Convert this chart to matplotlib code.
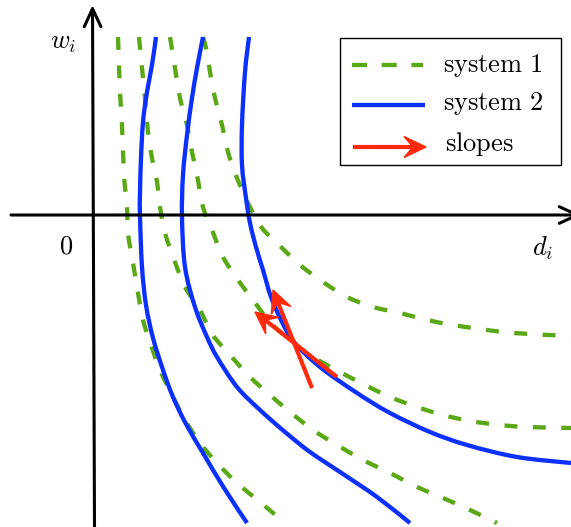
import matplotlib
matplotlib.use("Agg")
import numpy as np
import matplotlib.pyplot as plt
from matplotlib.patches import Rectangle, ArrowStyle, PathPatch, Polygon
from matplotlib.path import Path

plt.rcParams["mathtext.fontset"] = "cm"

# ---- system 1 (dashed) level curves: d_i, w_i ----
s1_d = [
    [0.25, 0.27, 0.29, 0.31, 0.34, 0.35, 0.40, 0.45, 0.50, 0.57, 0.67, 0.80, 0.92, 1.07, 1.24, 1.44, 1.67, 1.92],
    [0.46, 0.49, 0.52, 0.55, 0.59, 0.64, 0.67, 0.72, 0.82, 0.92, 1.07, 1.19, 1.37, 1.57, 1.77, 1.97, 2.20, 2.44,
     2.70, 2.97, 3.24, 3.50, 3.77, 4.04],
    [0.77, 0.82, 0.87, 0.94, 0.99, 1.04, 1.10, 1.19, 1.30, 1.45, 1.60, 1.77, 1.99, 2.20, 2.47, 2.72, 2.97, 3.24,
     3.50, 3.77, 4.07, 4.34, 4.78],
    [1.10, 1.14, 1.17, 1.22, 1.29, 1.35, 1.44, 1.57, 1.69, 1.88, 2.07, 2.30, 2.54, 2.80, 3.07, 3.34, 3.60, 3.87,
     4.20, 4.78],
]
s1_w = [
    [1.78, 1.23, 0.90, 0.40, 0.08, -0.18, -0.48, -0.78, -1.05, -1.27, -1.55, -1.82, -2.05, -2.28, -2.48, -2.68, -2.87, -3.08],
    [1.78, 1.47, 1.17, 0.83, 0.57, 0.33, 0.08, -0.18, -0.47, -0.72, -0.95, -1.19, -1.40, -1.62, -1.80, -1.97, -2.15, -2.30,
     -2.45, -2.58, -2.72, -2.83, -2.95, -3.08],
    [1.78, 1.47, 1.17, 0.90, 0.63, 0.40, 0.08, -0.15, -0.42, -0.65, -0.85, -1.07, -1.27, -1.42, -1.57, -1.70, -1.82, -1.92,
     -2.00, -2.06, -2.10, -2.12, -2.13],
    [1.78, 1.63, 1.43, 1.17, 0.90, 0.63, 0.37, 0.08, -0.13, -0.32, -0.50, -0.67, -0.82, -0.92, -0.98, -1.05, -1.10, -1.14,
     -1.18, -1.21],
]

# ---- system 2 (solid) level curves ----
s2_d = [
    [0.63, 0.59, 0.54, 0.50, 0.48, 0.47, 0.47, 0.49, 0.53, 0.60, 0.70, 0.80, 0.93, 1.10, 1.31, 1.54],
    [1.10, 1.04, 0.99, 0.94, 0.90, 0.89, 0.92, 1.02, 1.14, 1.24, 1.44, 1.67, 1.92, 2.17, 2.50, 2.84, 3.17],
    [1.56, 1.52, 1.49, 1.49, 1.53, 1.57, 1.63, 1.70, 1.78, 1.89, 2.01, 2.27, 2.64, 2.97, 3.37, 3.74, 4.24, 4.78],
]
s2_w = [
    [1.78, 1.50, 1.23, 0.93, 0.57, 0.23, -0.02, -0.52, -0.90, -1.23, -1.55, -1.82, -2.09, -2.38, -2.73, -3.08],
    [1.78, 1.47, 1.17, 0.80, 0.40, -0.02, -0.52, -0.92, -1.22, -1.42, -1.72, -1.95, -2.17, -2.37, -2.59, -2.82, -3.08],
    [1.78, 1.43, 0.90, 0.50, 0.17, -0.08, -0.32, -0.55, -0.82, -1.07, -1.27, -1.52, -1.78, -1.98, -2.17, -2.30, -2.42, -2.48],
]

# ---- slope arrows: (tail, head) ----
slope_tail = [(2.19, -1.73), (2.44, -1.62)]
slope_head = [(1.80, -0.75), (1.62, -0.97)]

legend_labels = ["system 1", "system 2", "slopes"]

GREEN = "#5aa815"
BLUE = "#0b30ff"
RED = "#ff2a0a"
LW = 3.1
DASH = (3.0, 3.6)


def smooth_path(xs, ys):
    """Cubic Bezier path running through every given point (Catmull-Rom tangents)."""
    p = np.column_stack([xs, ys]).astype(float)
    n = len(p)
    verts = [p[0]]
    codes = [Path.MOVETO]
    for i in range(n - 1):
        p0 = p[i - 1] if i > 0 else p[i]
        p1, p2 = p[i], p[i + 1]
        p3 = p[i + 2] if i + 2 < n else p[i + 1]
        c1 = p1 + (p2 - p0) / 6.0
        c2 = p2 - (p3 - p1) / 6.0
        verts += [c1, c2, p2]
        codes += [Path.CURVE4] * 3
    return Path(verts, codes)


def stealth_arrow(ax, tail, head, color, lw=3.0, length=0.22, half_width=0.105, notch=0.13):
    """Shaft plus a filled stealth-shaped head (data units, equal aspect)."""
    t = np.array(tail, float)
    h = np.array(head, float)
    u = (h - t) / np.hypot(*(h - t))
    n = np.array([-u[1], u[0]])
    back = h - u * length
    ax.plot([t[0], (h - u * notch)[0]], [t[1], (h - u * notch)[1]],
            color=color, lw=lw, solid_capstyle="butt")
    ax.add_patch(Polygon([h, back + n * half_width, h - u * notch, back - n * half_width],
                         closed=True, fc=color, ec=color, lw=1.0, joinstyle="miter"))


fig = plt.figure(figsize=(5.71, 5.27), dpi=100)
ax = fig.add_axes([0, 0, 1, 1])
ax.set_xlim(-0.93, 4.78)
ax.set_ylim(-3.12, 2.15)
ax.axis("off")

# coordinate axes
axis_style = ArrowStyle("->", head_length=0.65, head_width=0.3)
ax.annotate("", xy=(4.88, 0.0), xytext=(-0.82, 0.0),
            arrowprops=dict(arrowstyle=axis_style, mutation_scale=20, lw=2.2,
                            color="black", shrinkA=0, shrinkB=0),
            annotation_clip=False)
ax.annotate("", xy=(-0.005, 2.10), xytext=(0.015, -3.12),
            arrowprops=dict(arrowstyle=axis_style, mutation_scale=20, lw=2.2,
                            color="black", shrinkA=0, shrinkB=0),
            annotation_clip=False)

ax.text(-0.30, 1.73, r"$w_i$", fontsize=19, ha="center", va="center")
ax.text(-0.27, -0.31, r"$0$", fontsize=19, ha="center", va="center")
ax.text(4.50, -0.33, r"$d_i$", fontsize=19, ha="center", va="center")

for d, w in zip(s1_d, s1_w):
    ax.add_patch(PathPatch(smooth_path(d, w), fill=False, ec=GREEN, lw=LW,
                           linestyle=(0, DASH), capstyle="butt", joinstyle="round"))
for d, w in zip(s2_d, s2_w):
    ax.add_patch(PathPatch(smooth_path(d, w), fill=False, ec=BLUE, lw=LW,
                           capstyle="butt", joinstyle="round"))

for t, h in zip(slope_tail, slope_head):
    stealth_arrow(ax, t, h, RED)

# legend box
ax.add_patch(Rectangle((2.47, 0.50), 2.21, 1.27, fill=False, ec="black", lw=1.0))
ax.plot([2.59, 3.30], [1.50, 1.50], color=GREEN, lw=LW, dashes=(3.5, 3.4),
        dash_capstyle="butt")
ax.plot([2.59, 3.32], [1.10, 1.10], color=BLUE, lw=LW, solid_capstyle="butt")
stealth_arrow(ax, (2.60, 0.68), (3.33, 0.68), RED)
for y, lab, x in zip([1.43, 1.05, 0.645], legend_labels, [3.50, 3.50, 3.52]):
    ax.text(x, y, r"$\mathrm{" + lab.replace(" ", r"\ ") + "}$", fontsize=19,
            ha="left", va="baseline")

fig.savefig("out.png", dpi=100)
